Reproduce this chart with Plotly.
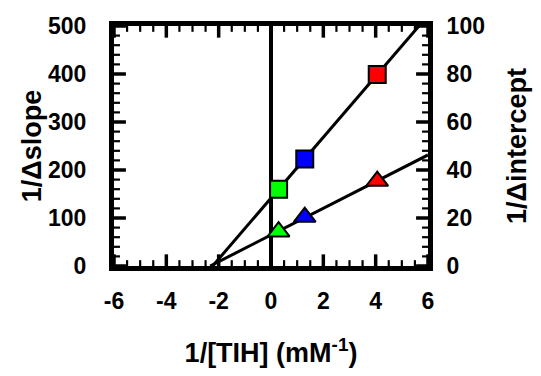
import numpy as np
import plotly.graph_objects as go

# Data
inv_tih = [0.29, 1.29, 4.06]             # 1/[TIH] (mM^-1)
inv_dslope = [160, 223, 399]             # 1/Δslope (left axis)
inv_dintercept = [14.3, 20.4, 35.4]      # 1/Δintercept (right axis)
point_colors = ["#00ff00", "#0000ff", "#ff0000"]

x_ticks = [-6, -4, -2, 0, 2, 4, 6]
x_ticktext = ["-6", "-4", "-2", "0", "2", "4", "6"]
y_ticks = [0, 100, 200, 300, 400, 500]
y2_ticks = [0, 20, 40, 60, 80, 100]

x_range = [-6, 6]
y_range = [0, 500]
y2_range = [0, 100]
x_minor_step = 0.5
y_minor_step = 20

FONT = "Liberation Sans, Arial, sans-serif"
W, H = 541, 376
M = dict(l=114, r=111, t=26, b=103)
px_x = (x_range[1] - x_range[0]) / (W - M["l"] - M["r"])   # data units per pixel
px_y = (y_range[1] - y_range[0]) / (H - M["t"] - M["b"])

# Linear fits (Dixon-type replots)
m1, b1 = np.polyfit(inv_tih, inv_dslope, 1)
m2, b2 = np.polyfit(inv_tih, inv_dintercept, 1)
fit1_x = [float(-b1 / m1), float(min(x_range[1], (y_range[1] - b1) / m1))]
fit1_y = [float(m1 * v + b1) for v in fit1_x]
fit2_x = [float(-b2 / m2), float(min(x_range[1], (y2_range[1] - b2) / m2))]
fit2_y = [float(m2 * v + b2) for v in fit2_x]

fig = go.Figure()

# Inside tick marks on all four sides (major and minor), each as its own segment
MAJ_LEN, MIN_LEN = 12, 6
n_x = int(round((x_range[1] - x_range[0]) / x_minor_step))
n_y = int(round((y_range[1] - y_range[0]) / y_minor_step))
segments = []   # (xs, ys, width)
for i in range(n_x + 1):
    xv = float(x_range[0] + i * x_minor_step)
    major = any(abs(xv - t) < 1e-9 for t in x_ticks)
    ln = float((MAJ_LEN if major else MIN_LEN) * px_y)
    w = 3.5 if major else 2.2
    segments.append(([xv, xv], [float(y_range[0]), y_range[0] + ln], w))
    segments.append(([xv, xv], [float(y_range[1]), y_range[1] - ln], w))
for i in range(n_y + 1):
    yv = float(y_range[0] + i * y_minor_step)
    major = any(abs(yv - t) < 1e-9 for t in y_ticks)
    ln = float((MAJ_LEN if major else MIN_LEN) * px_x)
    w = 3.5 if major else 2.2
    segments.append(([float(x_range[0]), x_range[0] + ln], [yv, yv], w))
    segments.append(([float(x_range[1]), x_range[1] - ln], [yv, yv], w))

for sx, sy, w in segments:
    fig.add_trace(go.Scatter(x=sx, y=sy, mode="lines", line=dict(color="black", width=w),
                             showlegend=False, cliponaxis=False))

fig.add_trace(go.Scatter(x=fit1_x, y=fit1_y, mode="lines",
                         line=dict(color="black", width=3), showlegend=False))
fig.add_trace(go.Scatter(x=fit2_x, y=fit2_y, mode="lines", yaxis="y2",
                         line=dict(color="black", width=3), showlegend=False))
fig.add_trace(go.Scatter(x=inv_tih, y=inv_dslope, mode="markers",
                         marker=dict(symbol="square", size=17, color=point_colors,
                                     line=dict(color="black", width=2)),
                         showlegend=False, cliponaxis=False))
fig.add_trace(go.Scatter(x=inv_tih, y=inv_dintercept, mode="markers", yaxis="y2",
                         marker=dict(symbol="triangle-up", size=19, color=point_colors,
                                     line=dict(color="black", width=2)),
                         showlegend=False, cliponaxis=False))

tickfont = dict(family=FONT, size=23, color="black", weight="bold")
titlefont = dict(family=FONT, size=27, color="black", weight="bold")

fig.update_layout(
    width=W, height=H,
    margin=M,
    paper_bgcolor="white", plot_bgcolor="white",
    hovermode=False,
    xaxis=dict(
        range=x_range, tickmode="array", tickvals=x_ticks, ticktext=x_ticktext,
        ticks="",
        showline=True, linewidth=5, linecolor="black", mirror=True,
        showgrid=False, zeroline=True, zerolinecolor="black", zerolinewidth=4,
        tickfont=tickfont, ticklabelstandoff=10,
        title=dict(text="1/[TIH] (mM<sup>-1</sup>)", font=titlefont, standoff=32),
    ),
    yaxis=dict(
        range=y_range, tickmode="array", tickvals=y_ticks,
        ticks="",
        showline=True, linewidth=5, linecolor="black", mirror=True,
        showgrid=False, zeroline=False,
        tickfont=tickfont, ticklabelstandoff=18,
        title=dict(text="1/\u0394slope", font=titlefont, standoff=0),
    ),
    yaxis2=dict(
        range=y2_range, tickmode="array", tickvals=y2_ticks,
        overlaying="y", side="right",
        ticks="",
        showline=True, linewidth=5, linecolor="black",
        showgrid=False, zeroline=False,
        tickfont=tickfont, ticklabelstandoff=9,
        title=dict(text="1/\u0394intercept", font=titlefont, standoff=25),
    ),
)

fig.write_html("out.html")
